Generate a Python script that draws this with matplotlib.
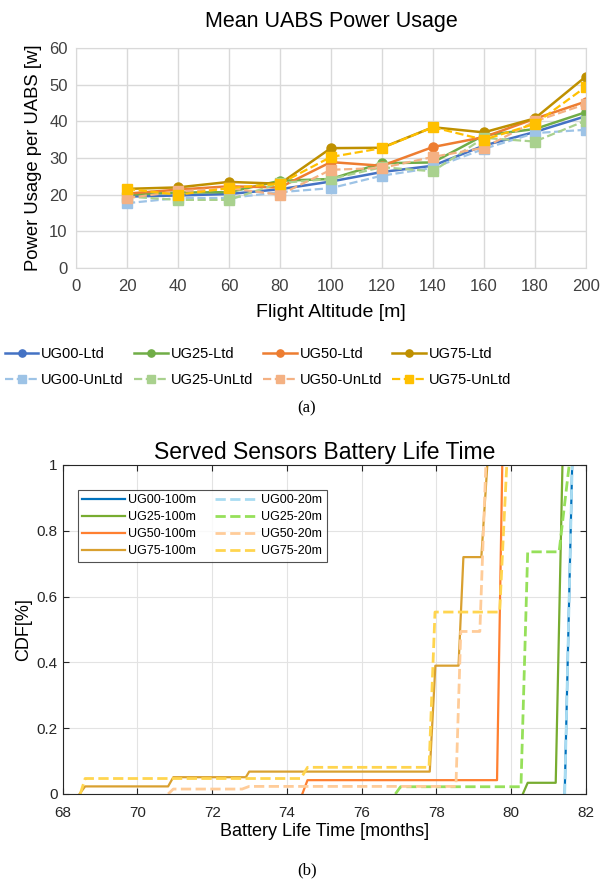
import matplotlib
matplotlib.use("Agg")
import matplotlib.pyplot as plt

plt.rcParams['font.family'] = ['Liberation Sans', 'DejaVu Sans']

# ---- (a) mean UABS power usage ----
altitude = [20, 40, 60, 80, 100, 120, 140, 160, 180, 200]

ug00_ltd = [19.5, 19.8, 20.2, 21.5, 23.6, 26.2, 27.9, 33.4, 37.1, 41.4]
ug25_ltd = [20.0, 20.6, 20.7, 23.8, 24.3, 28.6, 28.8, 36.2, 37.9, 42.5]
ug50_ltd = [20.3, 21.4, 22.3, 22.0, 28.9, 27.9, 33.0, 35.7, 40.7, 45.4]
ug75_ltd = [21.6, 22.0, 23.5, 23.0, 32.7, 32.8, 38.4, 37.0, 40.8, 52.2]

ug00_unltd = [17.7, 19.1, 19.1, 20.7, 21.8, 25.2, 27.3, 32.5, 36.8, 37.7]
ug25_unltd = [19.5, 18.6, 18.6, 23.2, 24.3, 27.5, 26.4, 35.5, 34.5, 40.2]
ug50_unltd = [19.1, 20.9, 21.8, 20.0, 26.8, 27.3, 30.3, 32.8, 40.0, 44.7]
ug75_unltd = [21.6, 20.0, 21.8, 23.0, 30.3, 32.7, 38.4, 35.0, 39.3, 49.4]

ltd_series = [("UG00-Ltd", ug00_ltd, "#4472C4"),
              ("UG25-Ltd", ug25_ltd, "#70AD47"),
              ("UG50-Ltd", ug50_ltd, "#ED7D31"),
              ("UG75-Ltd", ug75_ltd, "#BF9000")]
unltd_series = [("UG00-UnLtd", ug00_unltd, "#9DC3E6"),
                ("UG25-UnLtd", ug25_unltd, "#A9D18E"),
                ("UG50-UnLtd", ug50_unltd, "#F4B183"),
                ("UG75-UnLtd", ug75_unltd, "#FFC000")]

# ---- (b) battery life time CDF ----
ug00_100m_x = [81.43, 81.63]
ug00_100m_y = [0.0, 1.0]
ug00_20m_x = [81.43, 81.63]
ug00_20m_y = [0.0, 1.0]

ug25_100m_x = [80.31, 80.44, 81.19, 81.37]
ug25_100m_y = [0.0, 0.034, 0.034, 1.0]
ug25_20m_x = [76.9, 77.04, 80.26, 80.44, 81.28, 81.55]
ug25_20m_y = [0.0, 0.022, 0.022, 0.736, 0.736, 1.0]

ug50_100m_x = [74.41, 74.55, 79.62, 79.76]
ug50_100m_y = [0.0, 0.042, 0.042, 1.0]
ug50_20m_x = [70.82, 70.96, 72.8, 72.99, 78.52, 78.65, 79.16, 79.32]
ug50_20m_y = [0.0, 0.015, 0.015, 0.023, 0.023, 0.494, 0.494, 1.0]

ug75_100m_x = [68.45, 68.6, 70.82, 70.96, 72.9, 72.99, 77.82, 77.97, 78.59, 78.72, 79.2, 79.36]
ug75_100m_y = [0.0, 0.023, 0.023, 0.051, 0.051, 0.068, 0.068, 0.39, 0.39, 0.72, 0.72, 1.0]
ug75_20m_x = [68.47, 68.6, 74.37, 74.55, 77.8, 77.96, 79.69, 79.88]
ug75_20m_y = [0.0, 0.047, 0.047, 0.081, 0.081, 0.553, 0.553, 1.0]

fig = plt.figure(figsize=(6.14, 8.82), dpi=100)

ax1 = fig.add_axes([0.1238, 0.696, 0.8302, 0.2496])
ltd_lines = []
unltd_lines = []
for name, vals, col in ltd_series:
    ln, = ax1.plot(altitude, vals, '-', color=col, lw=1.8, marker='o', ms=6.5, label=name)
    ltd_lines.append(ln)
for name, vals, col in unltd_series:
    ln, = ax1.plot(altitude, vals, '--', color=col, lw=1.6, marker='s', ms=6.5, label=name)
    unltd_lines.append(ln)
ax1.set_xlim(0, 200)
ax1.set_ylim(0, 60)
ax1.set_xticks(range(0, 201, 20))
ax1.set_yticks(range(0, 61, 10))
ax1.grid(True, color='#D9D9D9', lw=1)
ax1.set_axisbelow(True)
for s in ax1.spines.values():
    s.set_color('#D9D9D9')
ax1.tick_params(length=0, labelsize=12, colors='#404040', pad=8)
ax1.tick_params(axis='y', pad=6)
ax1.set_title("Mean UABS Power Usage", fontsize=15.5, pad=15)
ax1.set_xlabel("Flight Altitude [m]", fontsize=14, labelpad=7)
ax1.set_ylabel("Power Usage per UABS [w]", fontsize=13.3, labelpad=5)

# legend is filled column by column: put Ltd on row 1, UnLtd on row 2
handles = []
for a, b in zip(ltd_lines, unltd_lines):
    handles += [a, b]
fig.legend(handles, [h.get_label() for h in handles], ncol=4, loc='center',
           bbox_to_anchor=(258 / 614, 1 - 367 / 882), frameon=False, fontsize=10.5,
           handlelength=2.3, columnspacing=0.7, handletextpad=0.2,
           markerscale=0.8, labelspacing=0.8, borderaxespad=0)

fig.text(0.5, 1 - 408 / 882, "(a)", ha='center', va='center', fontsize=12,
         family=['Liberation Serif', 'DejaVu Serif'])

ax2 = fig.add_axes([0.1021, 0.0998, 0.8523, 0.373])
ax2.plot(ug00_100m_x, ug00_100m_y, '-', color='#0072BD', lw=1.6, label='UG00-100m')
ax2.plot(ug25_100m_x, ug25_100m_y, '-', color='#77AC30', lw=1.6, label='UG25-100m')
ax2.plot(ug50_100m_x, ug50_100m_y, '-', color='#FF7F30', lw=1.6, label='UG50-100m')
ax2.plot(ug75_100m_x, ug75_100m_y, '-', color='#D9A030', lw=1.6, label='UG75-100m')
ax2.plot(ug00_20m_x, ug00_20m_y, '--', color='#A8DCF2', lw=2, label='UG00-20m')
ax2.plot(ug25_20m_x, ug25_20m_y, '--', color='#96E05A', lw=2, label='UG25-20m')
ax2.plot(ug50_20m_x, ug50_20m_y, '--', color='#FFCC99', lw=2, label='UG50-20m')
ax2.plot(ug75_20m_x, ug75_20m_y, '--', color='#FFD54F', lw=2, label='UG75-20m')
ax2.set_xlim(68, 82)
ax2.set_ylim(0, 1)
ax2.set_xticks(range(68, 83, 2))
ax2.set_yticks([0, 0.2, 0.4, 0.6, 0.8, 1])
ax2.set_yticklabels(['0', '0.2', '0.4', '0.6', '0.8', '1'])
ax2.grid(True, color='#E3E3E3', lw=0.8)
ax2.set_axisbelow(True)
for s in ax2.spines.values():
    s.set_color('#262626')
    s.set_linewidth(0.8)
ax2.tick_params(direction='in', length=4, labelsize=11, colors='#262626',
                top=True, right=True)
ax2.tick_params(axis='x', pad=9)
ax2.set_title("Served Sensors Battery Life Time", fontsize=16.5, pad=4)
ax2.set_xlabel("Battery Life Time [months]", fontsize=13, labelpad=2)
ax2.set_ylabel("CDF[%]", fontsize=13, labelpad=3)

h2, l2 = ax2.get_legend_handles_labels()
leg = ax2.legend(h2, l2, ncol=2, loc='upper left', bbox_to_anchor=(0.029, 0.924),
                 fontsize=9, handlelength=3.4, columnspacing=1.5, handletextpad=0.3,
                 labelspacing=0.4, fancybox=False, edgecolor='#262626',
                 borderpad=0.35, borderaxespad=0)
leg.get_frame().set_linewidth(0.8)

fig.text(0.5, 1 - 870 / 882, "(b)", ha='center', va='center', fontsize=12,
         family=['Liberation Serif', 'DejaVu Serif'])

fig.savefig("out.png", dpi=100)
